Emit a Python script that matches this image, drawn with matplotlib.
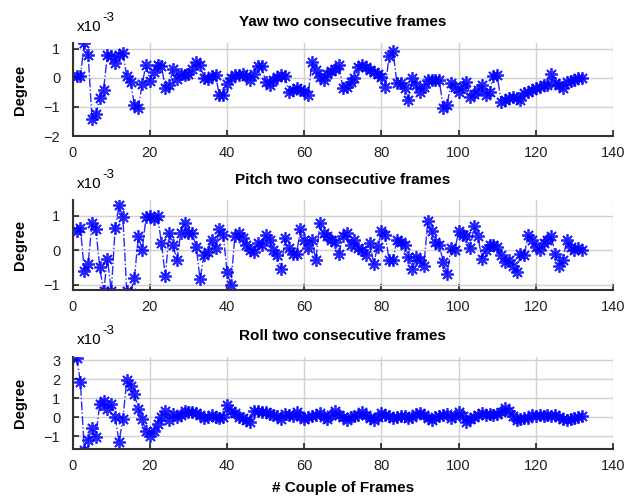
import numpy as np
import matplotlib
matplotlib.use('Agg')
import matplotlib.pyplot as plt

plt.rcParams['font.family'] = ['Liberation Sans', 'DejaVu Sans']

# valores (x1e-3 grados), un punto por pareja de frames
yaw = [0.05, 0.05, 1.2, 0.8, -1.4, -1.25, -0.7, -0.4, 0.8, 0.75,
       0.5, 0.8, 0.85, 0.05, -0.15, -0.95, -1.05, -0.2, 0.45, -0.1,
       0.2, 0.45, 0.4, -0.35, -0.25, 0.3, -0.05, 0.15, 0.1, 0.15,
       0.3, 0.55, 0.45, 0.0, -0.05, 0.05, 0.1, -0.6, -0.6, -0.2,
       0.0, 0.1, 0.1, 0.15, 0.05, -0.08, 0.15, 0.4, 0.4, -0.14,
       -0.25, -0.08, 0.03, 0.09, 0.05, -0.48, -0.42, -0.36, -0.42, -0.45,
       -0.6, 0.55, 0.26, 0.03, -0.08, 0.15, 0.25, 0.32, 0.43, -0.36,
       -0.3, -0.14, -0.02, 0.37, 0.43, 0.37, 0.26, 0.2, 0.15, 0.03,
       -0.3, 0.77, 0.94, -0.19, -0.19, -0.36, -0.76, -0.02, -0.25, -0.48,
       -0.3, -0.08, -0.08, -0.08, -0.08, -1.05, -0.93, -0.19, -0.3, -0.48,
       -0.3, -0.14, -0.65, -0.55, -0.42, -0.25, -0.59, -0.48, 0.05, 0.09,
       -0.82, -0.75, -0.7, -0.65, -0.7, -0.76, -0.53, -0.48, -0.42, -0.35,
       -0.3, -0.25, -0.25, 0.15, -0.19, -0.25, -0.36, -0.14, -0.1, -0.08,
       -0.02, -0.02]

pitch = [0.55, 0.65, -0.6, -0.4, 0.8, 0.6, -0.5, -1.2, -0.25, -1.2,
         0.65, 1.3, 0.95, -1.2, -1.25, -0.8, 0.4, 0.0, 0.95, 1.0,
         0.9, 1.0, 0.2, -0.75, 0.5, 0.15, -0.3, 0.5, 0.8, 0.5,
         0.5, 0.1, -0.85, -0.15, -0.05, 0.3, 0.05, 0.6, 0.45, -0.65,
         -1.0, 0.4, 0.5, 0.35, 0.15, 0.0, -0.05, 0.2, 0.15, 0.45,
         0.3, 0.0, -0.15, -0.55, 0.35, 0.05, -0.1, -0.1, 0.6, 0.3,
         0.05, 0.3, -0.3, 0.8, 0.5, 0.4, 0.3, 0.25, -0.1, 0.4,
         0.5, 0.15, 0.3, 0.05, 0.0, -0.15, 0.2, -0.4, 0.1, 0.55,
         0.45, -0.3, -0.3, 0.3, 0.25, 0.15, -0.2, -0.55, -0.2, -0.3,
         -0.45, 0.85, 0.55, 0.25, 0.15, -0.35, -0.7, 0.05, 0.0, 0.55,
         0.45, 0.4, 0.05, 0.7, 0.4, -0.25, 0.0, 0.15, 0.15, 0.1,
         -0.15, -0.35, -0.3, -0.45, -0.65, -0.1, -0.15, 0.45, 0.3, 0.1,
         0.0, 0.2, 0.3, 0.4, -0.1, -0.45, -0.3, 0.3, 0.1, 0.0,
         0.05, 0.0]

roll = [3.15, 1.85, -1.75, -1.2, -0.6, -1.05, 0.7, 0.85, 0.45, 0.7,
        0.0, -1.3, -0.1, 1.95, 1.65, 1.2, 0.45, -0.1, -0.75, -1.0,
        -0.75, -0.35, 0.0, 0.3, -0.15, 0.15, 0.0, 0.1, 0.3, 0.25,
        0.25, 0.2, 0.1, -0.05, 0.0, 0.1, 0.0, -0.05, 0.0, 0.65,
        0.35, 0.2, 0.0, -0.05, -0.15, -0.25, 0.3, 0.3, 0.25, 0.25,
        0.15, 0.1, 0.05, -0.1, 0.15, 0.1, 0.05, 0.25, 0.05, -0.1,
        0.0, 0.05, 0.1, 0.2, 0.0, -0.1, 0.1, 0.3, 0.1, 0.0,
        -0.15, 0.0, 0.05, 0.1, 0.25, 0.1, -0.05, -0.15, 0.0, 0.2,
        0.1, 0.05, -0.05, 0.0, 0.05, 0.05, -0.05, 0.0, 0.15, 0.2,
        0.1, -0.05, -0.15, 0.0, 0.05, 0.1, 0.15, -0.05, 0.05, 0.25,
        0.05, -0.25, -0.1, 0.0, 0.1, 0.2, 0.1, 0.15, 0.1, 0.15,
        0.25, 0.5, 0.35, 0.05, -0.15, -0.1, -0.05, -0.05, 0.1, 0.05,
        0.1, 0.05, 0.1, 0.05, 0.1, 0.0, -0.1, -0.15, -0.1, -0.05,
        0.0, 0.05]

titulos = ['Yaw two consecutive frames', 'Pitch two consecutive frames',
           'Roll two consecutive frames']
y_ticks = [[-2, -1, 0, 1], [-1, 0, 1], [-1, 0, 1, 2, 3]]
y_lims = [(-2, 1.2), (-1.16, 1.45), (-1.7, 3.2)]
x_ticks = [0, 20, 40, 60, 80, 100, 120, 140]

# posiciones de los ejes [izq, abajo, ancho, alto]
posiciones = [[0.1156, 0.7258, 0.859, 0.1875],
              [0.1156, 0.4153, 0.859, 0.181],
              [0.1156, 0.0942, 0.859, 0.1867]]

fig = plt.figure(figsize=(6.29, 4.96), dpi=100)

for serie, titulo, yt, yl, pos in zip([yaw, pitch, roll], titulos, y_ticks, y_lims, posiciones):
    ax = fig.add_axes(pos)
    x = np.arange(1, len(serie) + 1)
    # asterisco de 8 puntas como el '*' de MATLAB
    ax.plot(x, serie, color='#0000ff', linestyle='-.', linewidth=1.0,
            marker=(8, 2, 0), markersize=9, markeredgewidth=1.3, alpha=0.85)
    ax.set_xlim(0, 140)
    ax.set_ylim(*yl)
    ax.set_xticks(x_ticks)
    ax.set_yticks(yt)
    ax.grid(True, color='#d0d0d0', linewidth=1.0)
    ax.set_axisbelow(True)
    for lado in ['top', 'right']:
        ax.spines[lado].set_visible(False)
    for lado in ['left', 'bottom']:
        ax.spines[lado].set_color('#333333')
        ax.spines[lado].set_linewidth(1.5)
    ax.tick_params(direction='in', length=4, width=1.2, labelsize=10.5, colors='#222222')
    ax.tick_params(axis='y', pad=9)
    ax.tick_params(axis='x', pad=7)
    ax.set_ylabel('Degree', fontsize=10.5, fontweight='bold')
    ax.yaxis.set_label_coords(-0.085, 0.5)
    ax.set_title(titulo, fontsize=11, fontweight='bold', pad=12)
    # etiqueta del exponente estilo MATLAB
    ax.annotate('x10', xy=(0, 1), xycoords='axes fraction', xytext=(3, 9),
                textcoords='offset points', fontsize=11, ha='left', va='baseline')
    ax.annotate('-3', xy=(0, 1), xycoords='axes fraction', xytext=(21.5, 16),
                textcoords='offset points', fontsize=9.5, ha='left', va='baseline')

ax.set_xlabel('# Couple of Frames', fontsize=11, fontweight='bold', labelpad=6)

plt.savefig('out.png', dpi=100)
